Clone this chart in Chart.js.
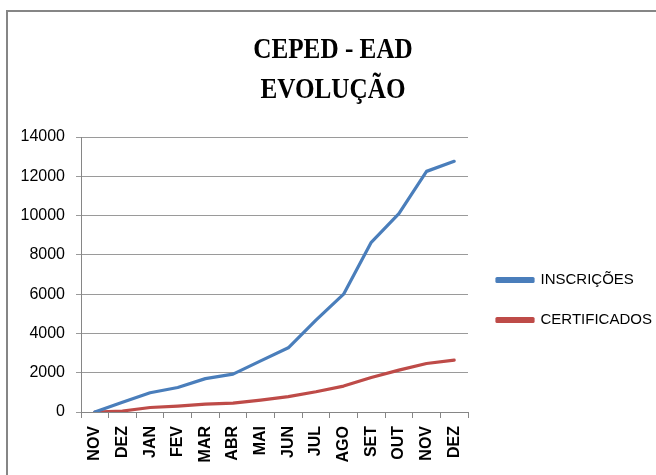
<!DOCTYPE html>
<html>
<head>
<meta charset="utf-8">
<script src="https://cdn.jsdelivr.net/npm/chart.js@4"></script>
<style>
  html, body { margin: 0; padding: 0; background: #fff; }
  #wrap { position: relative; width: 656px; height: 475px; overflow: hidden; }
  #frame { position: absolute; left: 6px; top: 10px; width: 700px; height: 500px;
           border-top: 2px solid #868686; border-left: 2px solid #868686; }
  canvas { position: absolute; left: 0; top: 0; }
</style>
</head>
<body>
<div id="wrap">
  <div id="frame"></div>
  <canvas id="c" width="656" height="475"></canvas>
</div>
<script>
const titleLines = ['CEPED - EAD', 'EVOLUÇÃO'];
const months = ['NOV', 'DEZ', 'JAN', 'FEV', 'MAR', 'ABR', 'MAI', 'JUN', 'JUL', 'AGO', 'SET', 'OUT', 'NOV', 'DEZ'];
const inscricoes = [0, 500, 980, 1250, 1700, 1930, 2600, 3270, 4680, 6000, 8640, 10100, 12250, 12760];
const certificados = [0, 50, 230, 300, 400, 450, 600, 780, 1030, 1320, 1760, 2130, 2470, 2640];
const yTicks = [0, 2000, 4000, 6000, 8000, 10000, 12000, 14000];

const titlePlugin = {
  id: 'customTitle',
  afterDraw(chart) {
    const ctx = chart.ctx;
    ctx.save();
    ctx.fillStyle = '#000';
    ctx.font = 'bold 30px "Liberation Serif"';
    ctx.textAlign = 'center';
    ctx.textBaseline = 'alphabetic';
    const baselines = [58, 98];
    titleLines.forEach((t, i) => {
      ctx.save();
      ctx.translate(333, baselines[i]);
      ctx.scale(0.84, 1);
      ctx.fillText(t, 0, 0);
      ctx.restore();
    });
    ctx.restore();
  }
};

const legendFix = {
  id: 'legendFix',
  beforeLayout(chart) {
    const lg = chart.legend;
    if (lg && !lg._patched) {
      const f = lg.fit;
      lg.fit = function () { f.call(this); this.width = 188; };
      lg._patched = true;
    }
  },
  afterLayout(chart) {
    const lg = chart.legend;
    if (lg) {
      lg.left += 4; lg.right += 4;
      lg.top -= 6; lg.bottom -= 6;
    }
  }
};

new Chart(document.getElementById('c'), {
  type: 'line',
  data: {
    labels: months,
    datasets: [
      { label: 'INSCRIÇÕES', data: inscricoes, borderColor: '#4a7ebb', backgroundColor: '#4a7ebb',
        borderWidth: 3.2, pointRadius: 0, tension: 0, borderCapStyle: 'round', borderJoinStyle: 'round' },
      { label: 'CERTIFICADOS', data: certificados, borderColor: '#be4b48', backgroundColor: '#be4b48',
        borderWidth: 3.2, pointRadius: 0, tension: 0, borderCapStyle: 'round', borderJoinStyle: 'round' }
    ]
  },
  options: {
    responsive: false,
    animation: false,
    layout: { padding: { top: 137, left: 0, right: 0, bottom: 0 } },
    plugins: {
      title: { display: false },
      tooltip: { enabled: false },
      legend: {
        position: 'right',
        align: 'center',
        labels: {
          color: '#000',
          font: { family: '"Liberation Sans"', size: 15 },
          boxWidth: 36,
          boxHeight: 3,
          padding: 25
        }
      }
    },
    scales: {
      x: {
        type: 'category',
        offset: true,
        afterFit(s) { s.height = 63; },
        grid: { display: true, drawOnChartArea: false, drawTicks: true, tickLength: 6, color: '#868686', offset: true },
        border: { display: true, color: '#868686', width: 1 },
        ticks: {
          color: '#000',
          font: { family: '"Liberation Sans"', size: 16, weight: 'bold' },
          minRotation: 90, maxRotation: 90, autoSkip: false, padding: 8
        }
      },
      y: {
        min: 0, max: 14000,
        afterFit(s) { s.width = 81; },
        afterBuildTicks(s) { s.ticks = yTicks.map(v => ({ value: v })); },
        grid: { color: '#9a9a9a', tickLength: 5, drawTicks: true },
        border: { display: true, color: '#868686', width: 1 },
        ticks: {
          color: '#000',
          font: { family: '"Liberation Sans"', size: 16 },
          padding: 11,
          callback: (v) => String(v)
        }
      }
    }
  },
  plugins: [titlePlugin, legendFix]
});
</script>
</body>
</html>
